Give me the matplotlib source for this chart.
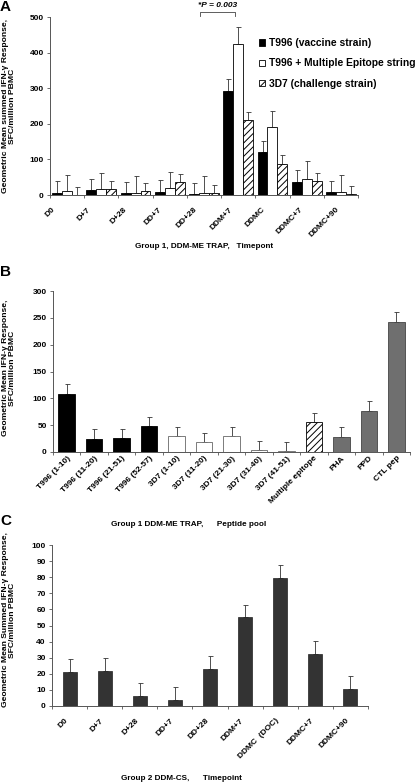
import matplotlib
matplotlib.use("Agg")
import matplotlib.pyplot as plt
import numpy as np
from matplotlib.transforms import ScaledTranslation

plt.rcParams['font.family'] = ['Liberation Sans', 'DejaVu Sans']
plt.rcParams['font.weight'] = 'bold'
plt.rcParams['hatch.linewidth'] = 0.7

# ---------------- Data ----------------
a_timepoints = ["D0", "D+7", "D+28", "DD+7", "DD+28", "DDM+7", "DDMC", "DDMC+7", "DDMC+90"]
a_t996 = [7, 13, 5, 9, 3, 293, 121, 36, 8]
a_t996_top = [40, 46, 37, 43, 35, 327, 153, 69, 40]
a_mes = [10, 17, 6, 20, 6, 423, 190, 46, 8]
a_mes_top = [57, 63, 54, 66, 52, 471, 237, 95, 57]
a_3d7 = [0.5, 17, 12, 36, 6, 212, 88, 40, 3]
a_3d7_top = [22, 40, 35, 59, 29, 234, 111, 62, 26]
a_series = ["T996 (vaccine strain)", "T996 + Multiple Epitope string", "3D7 (challenge strain)"]

b_pools = ["T996 (1-10)", "T996 (11-20)", "T996 (21-51)", "T996 (52-57)", "3D7 (1-10)",
           "3D7 (11-20)", "3D7 (21-30)", "3D7 (31-40)", "3D7 (41-51)", "Multiple epitope",
           "PHA", "PPD", "CTL pep"]
b_vals = [108, 25, 26, 48, 29, 18, 30, 4, 2, 55, 28, 76, 242]
b_top = [126, 42, 43, 65, 47, 36, 47, 21, 19, 73, 47, 95, 260]
b_kind = ["t996"] * 4 + ["3d7"] * 5 + ["me"] + ["ctrl"] * 3

c_timepoints = ["D0", "D+7", "D+28", "DD+7", "DD+28", "DDM+7", "DDMC  (DOC)", "DDMC+7", "DDMC+90"]
c_vals = [21, 21.5, 6, 4, 23, 55, 79.5, 32, 10.5]
c_top = [29, 30, 14, 12, 31, 62.5, 87.5, 40.5, 18.5]

W, H = 416, 784
fig = plt.figure(figsize=(W / 100, H / 100), dpi=100)

TICK_FS = 6.0
LAB_FS = 5.9
YLAB_FS = 6.1

def ax_px(left, top, right, bottom):
    return fig.add_axes([left / W, 1 - bottom / H, (right - left) / W, (bottom - top) / H])

def style(ax, n, ymax, ystep):
    for s in ['top', 'right']:
        ax.spines[s].set_visible(False)
    for s in ['left', 'bottom']:
        ax.spines[s].set_color('#555555')
        ax.spines[s].set_linewidth(0.7)
    ax.set_xlim(-0.5, n - 0.5)
    ax.set_ylim(0, ymax)
    ax.set_yticks(np.arange(0, ymax + 1, ystep))
    ax.tick_params(axis='y', labelsize=TICK_FS, length=2.5, width=0.6, color='#555555', pad=2)
    ax.set_xticks(np.arange(n))
    ax.set_xticks(np.arange(n + 1) - 0.5, minor=True)
    ax.tick_params(axis='x', which='major', length=0)
    ax.tick_params(axis='x', which='minor', length=2.5, width=0.6, color='#555555')
    for lab in ax.get_yticklabels():
        lab.set_fontweight('bold')

ekw = dict(ecolor='#333333', elinewidth=0.6, capsize=1.8, capthick=0.6)

# ---------------- Panel A ----------------
axA = ax_px(50, 17, 358, 195)
style(axA, 9, 500, 100)
x = np.arange(9)
bw = 0.29
vals = [a_t996, a_mes, a_3d7]
tops = [a_t996_top, a_mes_top, a_3d7_top]
fcs = ['black', 'white', 'white']
hatches = [None, None, '/////']
handles = []
for i in range(3):
    xi = x + (i - 1) * bw
    err = [np.zeros(9), np.array(tops[i]) - np.array(vals[i])]
    axA.errorbar(xi, vals[i], yerr=err, fmt='none', **ekw)
    b = axA.bar(xi, vals[i], width=bw, color=fcs[i], edgecolor='black', linewidth=0.6,
                hatch=hatches[i], label=a_series[i], zorder=3)
    handles.append(b)
axA.set_xticklabels(a_timepoints, rotation=45, ha='center', va='top', fontsize=TICK_FS, fontweight='bold')
axA.tick_params(axis='x', which='major', pad=8)
for lab in axA.get_xticklabels():
    lab.set_transform(lab.get_transform() + ScaledTranslation(-17 / 100, 0, fig.dpi_scale_trans))
leg = axA.legend(handles=handles, loc='upper left', frameon=False, fontsize=7.4,
                 handlelength=0.6, handleheight=0.6, handletextpad=0.35, labelspacing=1.0,
                 borderaxespad=0.0)
leg.set_bbox_to_anchor((255 / W, 1 - 34 / H), transform=fig.transFigure)
for t in leg.get_texts():
    t.set_fontweight('bold')
# significance bracket
axA.plot([3.88, 3.88, 4.91, 4.91], [503, 514, 514, 503], color='#444444', lw=0.6, clip_on=False)
axA.text(4.4, 522, "*P = 0.003", ha='center', va='bottom', fontsize=6.0, fontstyle='italic',
         fontweight='bold')
fig.text(204 / W, 1 - 247 / H, "Group 1, DDM-ME TRAP,   Timepont", ha='center', va='center',
         fontsize=LAB_FS, fontweight='bold')
fig.text(9 / W, 1 - 106 / H, "Geometric Mean summed IFN-\u03b3 Response,\nSFC/million PBMC",
         rotation=90, ha='center', va='center', multialignment='center', fontsize=YLAB_FS,
         fontweight='bold', linespacing=1.1)
fig.text(0 / W, 1 - 0 / H, "A", ha='left', va='top', fontsize=11, fontweight='bold')

# ---------------- Panel B ----------------
axB = ax_px(53, 291, 410, 452)
style(axB, 13, 300, 50)
xb = np.arange(13)
colmap = {"t996": ("black", "black", None), "3d7": ("white", "#666666", None),
          "me": ("white", "black", "/////"), "ctrl": ("#6f6f6f", "#444444", None)}
errb = [np.zeros(13), np.array(b_top) - np.array(b_vals)]
axB.errorbar(xb, b_vals, yerr=errb, fmt='none', **ekw)
for i in range(13):
    fc, ec, h = colmap[b_kind[i]]
    axB.bar(xb[i], b_vals[i], width=0.6, color=fc, edgecolor=ec, linewidth=0.6, hatch=h, zorder=3)
axB.set_xticklabels(b_pools, rotation=45, ha='right', va='top', rotation_mode='default',
                    fontsize=TICK_FS, fontweight='bold')
axB.tick_params(axis='x', which='major', pad=2)
for lab in axB.get_xticklabels():
    lab.set_transform(lab.get_transform() + ScaledTranslation(5 / 100, 0, fig.dpi_scale_trans))
fig.text(189 / W, 1 - 525 / H, "Group 1 DDM-ME TRAP,      Peptide pool", ha='center', va='center',
         fontsize=LAB_FS, fontweight='bold')
fig.text(9 / W, 1 - 368 / H, "Geometric Mean IFN-\u03b3 Response,\nSFC/million PBMC",
         rotation=90, ha='center', va='center', multialignment='center', fontsize=YLAB_FS,
         fontweight='bold', linespacing=1.1)
fig.text(0 / W, 1 - 265 / H, "B", ha='left', va='top', fontsize=11, fontweight='bold')

# ---------------- Panel C ----------------
axC = ax_px(52, 545, 368, 706)
style(axC, 9, 100, 10)
xc = np.arange(9)
errc = [np.zeros(9), np.array(c_top) - np.array(c_vals)]
axC.errorbar(xc, c_vals, yerr=errc, fmt='none', **ekw)
axC.bar(xc, c_vals, width=0.4, color='#333333', edgecolor='#222222', linewidth=0.5, zorder=3)
axC.set_xticklabels(c_timepoints, rotation=45, ha='right', va='top', fontsize=TICK_FS, fontweight='bold')
axC.tick_params(axis='x', which='major', pad=8)
fig.text(181 / W, 1 - 778 / H, "Group 2 DDM-CS,      Timepoint", ha='center', va='center',
         fontsize=LAB_FS, fontweight='bold')
fig.text(9 / W, 1 - 620 / H, "Geometric Mean Summed IFN-\u03b3 Response,\nSFC/million PBMC",
         rotation=90, ha='center', va='center', multialignment='center', fontsize=YLAB_FS,
         fontweight='bold', linespacing=1.1)
fig.text(0 / W, 1 - 514 / H, "C", ha='left', va='top', fontsize=11, fontweight='bold')

fig.savefig("out.png", dpi=100)
